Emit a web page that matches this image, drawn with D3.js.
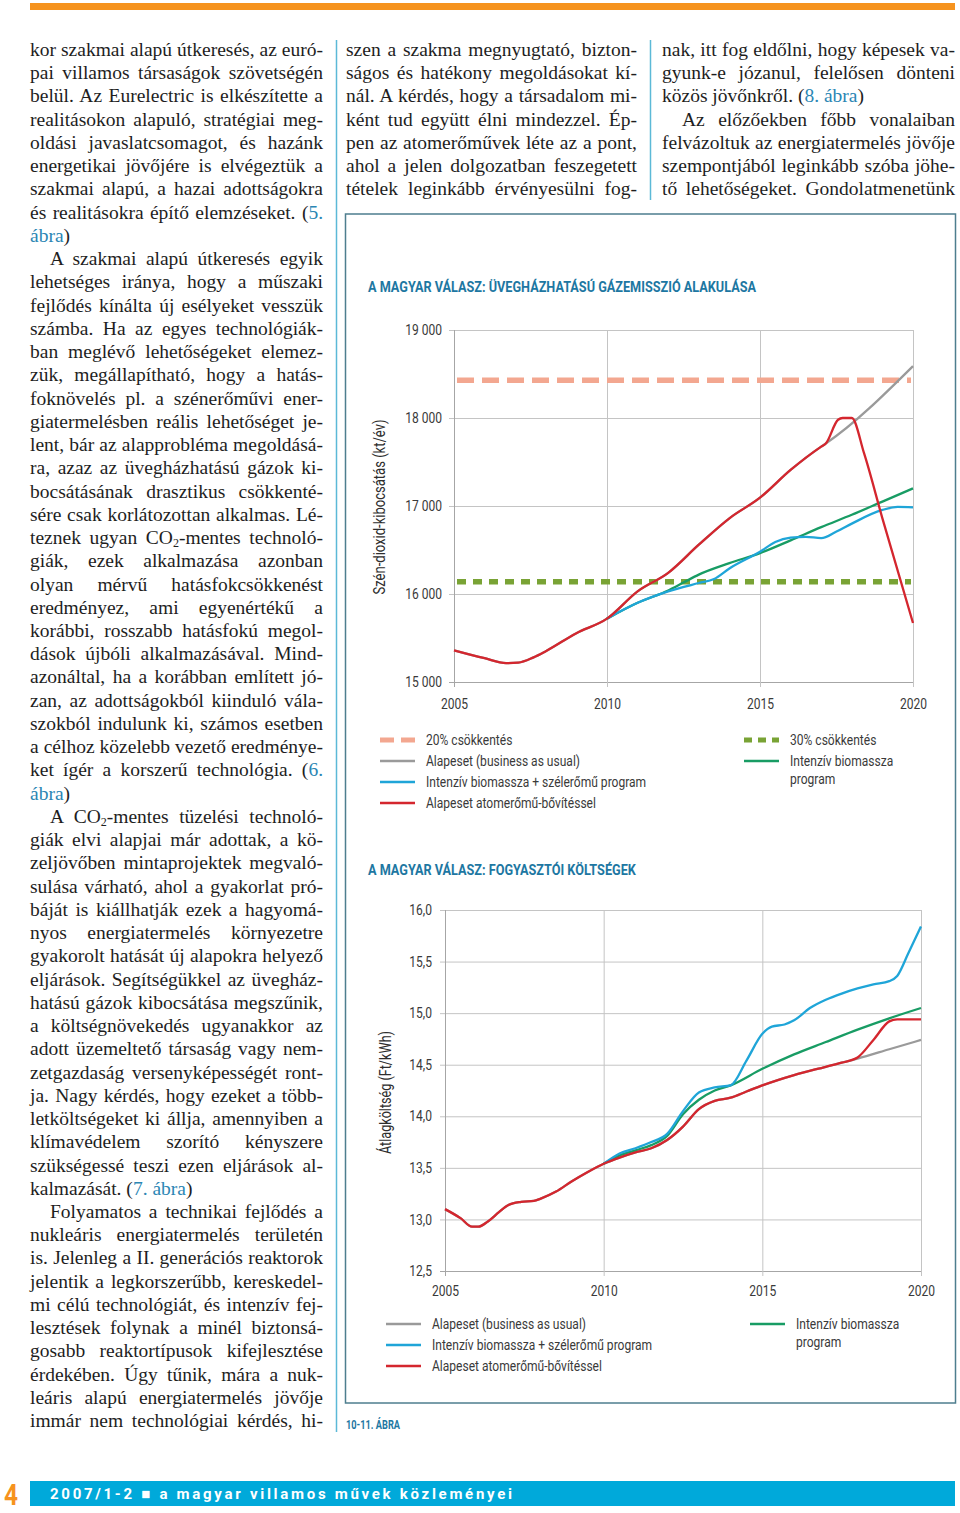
<!DOCTYPE html>
<html><head><meta charset="utf-8">
<script src="https://cdn.jsdelivr.net/npm/d3@7"></script>
<style>
html,body{margin:0;padding:0;background:#fff;}
#page{position:relative;width:960px;height:1513px;overflow:hidden;background:#fff;}
#page svg{position:absolute;left:0;top:0;}
.ln{position:absolute;white-space:pre;font-family:"Liberation Serif","Times New Roman",serif;font-size:19.5px;line-height:23.24px;color:#1e1e1e;}
.lk{color:#2b86b4;}
.ln sub{font-size:0.62em;vertical-align:-0.22em;line-height:0;}
</style></head><body><div id="page"></div>
<script>
// ---------------- DATA ----------------
const xYears = [2005, 2010, 2015, 2020];

// Chart 1: greenhouse gas emission (kt/év)
const emisTicks = [15000, 16000, 17000, 18000, 19000];
const emisTickLabels = ["15 000", "16 000", "17 000", "18 000", "19 000"];
const emisBAU = [[2005,15360],[2006,15270],[2006.7,15215],[2007.1,15220],[2007.6,15280],[2008,15350],[2009,15555],[2010,15720],[2011,16030],[2012,16240],[2013,16560],[2014,16860],[2015,17095],[2016,17410],[2017,17675],[2017.15,17710],[2020,18590]];
const emisNuclear = [[2005,15360],[2006,15270],[2006.7,15215],[2007.1,15220],[2007.6,15280],[2008,15350],[2009,15555],[2010,15720],[2011,16030],[2012,16240],[2013,16560],[2014,16860],[2015,17095],[2016,17410],[2017,17675],[2017.15,17710],[2017.55,17980],[2017.7,18000],[2018.0,18000],[2018.4,17600],[2019,16860],[2020,15670]];
const emisBiomass = [[2010,15720],[2011,15900],[2012,16040],[2012.5,16130],[2013,16220],[2014,16350],[2015,16465],[2016,16610],[2017,16760],[2018,16900],[2019,17050],[2020,17200]];
const emisBioWind = [[2010,15720],[2011,15900],[2012,16030],[2013,16125],[2013.5,16170],[2014,16290],[2015,16480],[2015.5,16590],[2016,16640],[2016.5,16650],[2017,16635],[2017.5,16710],[2018,16800],[2019,16955],[2019.5,16990],[2020,16985]];
const emisTarget20 = 18430;
const emisTarget30 = 16140;

// Chart 2: consumer costs (Ft/kWh)
const costTicks = [12.5, 13, 13.5, 14, 14.5, 15, 15.5, 16];
const costTickLabels = ["12,5", "13,0", "13,5", "14,0", "14,5", "15,0", "15,5", "16,0"];
const costBase = [[2005,13.10],[2005.5,13.01],[2005.85,12.93],[2006.05,12.93],[2006.35,12.98],[2006.7,13.07],[2007,13.14],[2007.4,13.17],[2007.8,13.18],[2008,13.20],[2008.5,13.27],[2009,13.37],[2009.5,13.46],[2010,13.54],[2010.5,13.60],[2011,13.65],[2011.5,13.69],[2012,13.77],[2012.5,13.90],[2013,14.07],[2013.5,14.15],[2014,14.18],[2014.5,14.24],[2015,14.30],[2016,14.40],[2017,14.48],[2017.5,14.52]];
const costBAU = costBase.concat([[2018,14.56],[2019,14.65],[2020,14.74]]);
const costNuclear = costBase.concat([[2018,14.57],[2018.5,14.74],[2019,14.92],[2019.25,14.94],[2020,14.94]]);
const costBiomass = [[2010,13.54],[2010.5,13.62],[2011,13.67],[2011.5,13.72],[2012,13.81],[2012.5,14.02],[2013,14.16],[2013.5,14.25],[2014,14.30],[2015,14.46],[2016,14.60],[2017,14.72],[2018,14.84],[2019,14.95],[2020,15.05]];
const costBioWind = [[2010,13.54],[2010.5,13.64],[2011,13.69],[2011.5,13.75],[2012,13.83],[2012.5,14.05],[2013,14.23],[2013.5,14.28],[2014,14.30],[2014.5,14.54],[2015,14.80],[2015.3,14.87],[2015.7,14.89],[2016,14.93],[2016.5,15.05],[2017,15.13],[2017.5,15.19],[2018,15.24],[2018.5,15.28],[2019,15.31],[2019.25,15.36],[2019.6,15.58],[2020,15.84]];

// Labels
const seriesNames = {
  t20: "20% csökkentés",
  t30: "30% csökkentés",
  bau: "Alapeset (business as usual)",
  bio: ["Intenzív biomassza", "program"],
  wind: "Intenzív biomassza + szélerőmű program",
  nuc: "Alapeset atomerőmű-bővítéssel"
};
const chart1Title = "A MAGYAR VÁLASZ: ÜVEGHÁZHATÁSÚ GÁZEMISSZIÓ ALAKULÁSA";
const chart2Title = "A MAGYAR VÁLASZ: FOGYASZTÓI KÖLTSÉGEK";
const chart1YTitle = "Szén-dioxid-kibocsátás (kt/év)";
const chart2YTitle = "Átlagköltség (Ft/kWh)";
const figCaption = "10-11. ÁBRA";
const footerText = "2007/1-2 ■ a magyar villamos művek közleményei";
const pageNumber = "4";

// Body text (">" = indent, "|" = not justified, {..} = link, _2 = subscript)
const col1Lines = [
"kor szakmai alapú útkeresés, az euró-",
"pai villamos társaságok szövetségén",
"belül. Az Eurelectric is elkészítette a",
"realitásokon alapuló, stratégiai meg-",
"oldási javaslatcsomagot, és hazánk",
"energetikai jövőjére is elvégeztük a",
"szakmai alapú, a hazai adottságokra",
"és realitásokra építő elemzéseket. ({5.}",
"{ábra})|",
">A szakmai alapú útkeresés egyik",
"lehetséges iránya, hogy a műszaki",
"fejlődés kínálta új esélyeket vesszük",
"számba. Ha az egyes technológiák-",
"ban meglévő lehetőségeket elemez-",
"zük, megállapítható, hogy a hatás-",
"foknövelés pl. a szénerőművi ener-",
"giatermelésben reális lehetőséget je-",
"lent, bár az alapprobléma megoldásá-",
"ra, azaz az üvegházhatású gázok ki-",
"bocsátásának drasztikus csökkenté-",
"sére csak korlátozottan alkalmas. Lé-",
"teznek ugyan CO_2-mentes technoló-",
"giák, ezek alkalmazása azonban",
"olyan mérvű hatásfokcsökkenést",
"eredményez, ami egyenértékű a",
"korábbi, rosszabb hatásfokú megol-",
"dások újbóli alkalmazásával. Mind-",
"azonáltal, ha a korábban említett jó-",
"zan, az adottságokból kiinduló vála-",
"szokból indulunk ki, számos esetben",
"a célhoz közelebb vezető eredménye-",
"ket ígér a korszerű technológia. ({6.}",
"{ábra})|",
">A CO_2-mentes tüzelési technoló-",
"giák elvi alapjai már adottak, a kö-",
"zeljövőben mintaprojektek megvaló-",
"sulása várható, ahol a gyakorlat pró-",
"báját is kiállhatják ezek a hagyomá-",
"nyos energiatermelés környezetre",
"gyakorolt hatását új alapokra helyező",
"eljárások. Segítségükkel az üvegház-",
"hatású gázok kibocsátása megszűnik,",
"a költségnövekedés ugyanakkor az",
"adott üzemeltető társaság vagy nem-",
"zetgazdaság versenyképességét ront-",
"ja. Nagy kérdés, hogy ezeket a több-",
"letköltségeket ki állja, amennyiben a",
"klímavédelem szorító kényszere",
"szükségessé teszi ezen eljárások al-",
"kalmazását. ({7. ábra})|",
">Folyamatos a technikai fejlődés a",
"nukleáris energiatermelés területén",
"is. Jelenleg a II. generációs reaktorok",
"jelentik a legkorszerűbb, kereskedel-",
"mi célú technológiát, és intenzív fej-",
"lesztések folynak a minél biztonsá-",
"gosabb reaktortípusok kifejlesztése",
"érdekében. Úgy tűnik, mára a nuk-",
"leáris alapú energiatermelés jövője",
"immár nem technológiai kérdés, hi-"
];
const col2Lines = [
"szen a szakma megnyugtató, bizton-",
"ságos és hatékony megoldásokat kí-",
"nál. A kérdés, hogy a társadalom mi-",
"ként tud együtt élni mindezzel. Ép-",
"pen az atomerőművek léte az a pont,",
"ahol a jelen dolgozatban feszegetett",
"tételek leginkább érvényesülni fog-"
];
const col3Lines = [
"nak, itt fog eldőlni, hogy képesek va-",
"gyunk-e józanul, felelősen dönteni",
"közös jövőnkről. ({8. ábra})|",
">Az előzőekben főbb vonalaiban",
"felvázoltuk az energiatermelés jövője",
"szempontjából leginkább szóba jöhe-",
"tő lehetőségeket. Gondolatmenetünk"
];

// ---------------- STYLE ----------------
const C = {
  red: "#d4262e", gray: "#9a9a9a", blue: "#1fa5d8", green: "#189c64",
  salmon: "#f3a790", olive: "#79a335", grid: "#c4c4c4", axis: "#a6a6a6",
  title: "#1d77a2", text: "#3a3a3a", orange: "#f6931e", cyan: "#00a9da",
  sep: "#5cb9d7", box: "#4e7e8e"
};
const SANS = "Roboto, 'Liberation Sans', sans-serif";

const page = d3.select("#page");
const svg = page.append("svg").attr("width", 960).attr("height", 1513);

// measure helper to emulate condensed typeface
function measure(txt, size, weight) {
  const t = svg.append("text").attr("font-family", SANS).attr("font-size", size)
    .attr("font-weight", weight).text(txt);
  const w = t.node().getComputedTextLength(); t.remove(); return w;
}
const kLabel = 154 / measure(seriesNames.bau, 14.5, 400);
const kTitle = 388 / measure(chart1Title, 14.5, 700);
function squeeze(sel, k) {
  sel.each(function () {
    const w = this.getComputedTextLength();
    d3.select(this).attr("textLength", w * k).attr("lengthAdjust", "spacingAndGlyphs");
  });
}

// ---------------- PAGE DECOR ----------------
svg.append("rect").attr("x", 30).attr("y", 3).attr("width", 925).attr("height", 7).attr("fill", C.orange);
svg.append("line").attr("x1", 336.5).attr("x2", 336.5).attr("y1", 40).attr("y2", 1432).attr("stroke", C.sep).attr("stroke-width", 1.5);
svg.append("line").attr("x1", 650.5).attr("x2", 650.5).attr("y1", 40).attr("y2", 200).attr("stroke", C.sep).attr("stroke-width", 1.5);
svg.append("rect").attr("x", 345.5).attr("y", 214).attr("width", 610).attr("height", 1189)
  .attr("fill", "none").attr("stroke", C.box).attr("stroke-width", 1.5);

// footer
svg.append("rect").attr("x", 30).attr("y", 1481).attr("width", 925).attr("height", 25).attr("fill", C.cyan);
svg.append("text").attr("x", 4).attr("y", 1505).attr("font-family", SANS).attr("font-weight", 700)
  .attr("font-size", 30).attr("fill", C.orange).text(pageNumber).attr("textLength", 14).attr("lengthAdjust", "spacingAndGlyphs");
svg.append("text").attr("x", 50).attr("y", 1499).attr("font-family", SANS).attr("font-weight", 700)
  .attr("font-size", 15).attr("fill", "#fff").text(footerText).attr("textLength", 462).attr("lengthAdjust", "spacing");

// ---------------- BODY TEXT ----------------
const LH = 23.24, TOP0 = 38;
function markup(s) {
  return s.replace(/\{([^}]*)\}/g, '<span class="lk">$1</span>').replace(/_2/g, "<sub>2</sub>");
}
function column(lines, x, width) {
  lines.forEach((raw, i) => {
    let s = raw, indent = 0, just = true;
    if (s.startsWith(">")) { s = s.slice(1); indent = 20; }
    if (s.endsWith("|")) { s = s.slice(0, -1); just = false; }
    const d = page.append("div").attr("class", "ln")
      .style("left", (x + indent) + "px").style("top", (TOP0 + i * LH) + "px")
      .html(markup(s));
    if (just) {
      const node = d.node();
      const nat = node.getBoundingClientRect().width;
      const n = (node.textContent.match(/ /g) || []).length;
      if (n > 0) d.style("word-spacing", ((width - indent - nat) / n) + "px");
    }
  });
}
column(col1Lines, 30, 293);
column(col2Lines, 346, 291);
column(col3Lines, 662, 293);

// ---------------- CHARTS ----------------
function drawChart(cfg) {
  const g = svg.append("g");
  const x = d3.scaleLinear().domain([2005, 2020]).range([cfg.left, cfg.right]);
  const y = d3.scaleLinear().domain(cfg.yDomain).range([cfg.bottom, cfg.top]);

  // title
  g.append("text").attr("x", 368).attr("y", cfg.titleY).attr("font-family", SANS).attr("font-weight", 700)
    .attr("font-size", 14.5).attr("fill", C.title).text(cfg.title).call(squeeze, kTitle);

  // y axis + horizontal grid
  const ya = g.append("g").attr("transform", `translate(${cfg.left},0)`)
    .call(d3.axisLeft(y).tickValues(cfg.yTicks).tickFormat((d, i) => cfg.yLabels[i])
      .tickSize(-(cfg.right - cfg.left)).tickPadding(cfg.yPad));
  ya.select(".domain").remove();
  ya.selectAll(".tick line").attr("x1", -5).attr("stroke", (d, i) => i === 0 ? C.axis : C.grid);
  ya.selectAll(".tick text").attr("font-family", SANS).attr("font-size", 14.5).attr("fill", C.text).call(squeeze, kLabel);

  // x axis + vertical grid
  const xa = g.append("g").attr("transform", `translate(0,${cfg.bottom})`)
    .call(d3.axisBottom(x).tickValues(xYears).tickFormat(d3.format("d"))
      .tickSize(-(cfg.bottom - cfg.top)).tickPadding(cfg.xPad));
  xa.select(".domain").remove();
  xa.selectAll(".tick line").attr("y1", 5).attr("stroke", (d, i) => i === 0 ? C.axis : C.grid);
  xa.selectAll(".tick text").attr("font-family", SANS).attr("font-size", 14.5).attr("fill", C.text).call(squeeze, kLabel);

  // y title
  g.append("text").attr("transform", `translate(${cfg.yTitleX},${(cfg.top + cfg.bottom) / 2 + cfg.yTitleDy}) rotate(-90)`)
    .attr("text-anchor", "middle").attr("font-family", SANS).attr("font-size", 16).attr("fill", "#2e2e2e")
    .text(cfg.yTitle).attr("textLength", cfg.yTitleLen).attr("lengthAdjust", "spacingAndGlyphs");

  // target dashed lines
  (cfg.flats || []).forEach(f => {
    g.append("line").attr("x1", x(2005) + 3).attr("x2", x(2020) - 2).attr("y1", y(f.v)).attr("y2", y(f.v))
      .attr("stroke", f.color).attr("stroke-width", 5.5).attr("stroke-dasharray", f.dash);
  });

  const line = d3.line().x(d => x(d[0])).y(d => y(d[1])).curve(d3.curveMonotoneX);
  cfg.series.forEach(s => {
    g.append("path").datum(s.data).attr("d", line).attr("fill", "none")
      .attr("stroke", s.color).attr("stroke-width", 2.3).attr("stroke-linejoin", "round");
  });

  // legend
  cfg.legend.forEach(it => {
    const sw = g.append("line").attr("x1", it.x).attr("x2", it.x + 35).attr("y1", it.y).attr("y2", it.y)
      .attr("stroke", it.color).attr("stroke-width", it.dash ? 5 : 2.5);
    if (it.dash) sw.attr("stroke-dasharray", it.dash);
    const labels = Array.isArray(it.label) ? it.label : [it.label];
    labels.forEach((lb, j) => {
      g.append("text").attr("x", it.x + 46).attr("y", it.y + 5 + j * 18).attr("font-family", SANS)
        .attr("font-size", 14.5).attr("fill", C.text).text(lb).call(squeeze, kLabel);
    });
  });
}

drawChart({
  title: chart1Title, titleY: 292,
  left: 454, right: 913, top: 330, bottom: 682,
  yDomain: [15000, 19000], yTicks: emisTicks, yLabels: emisTickLabels, yPad: 12, xPad: 17,
  yTitle: chart1YTitle, yTitleX: 385, yTitleDy: 1, yTitleLen: 175,
  flats: [
    { v: emisTarget20, color: C.salmon, dash: "17,8" },
    { v: emisTarget30, color: C.olive, dash: "9,7" }
  ],
  series: [
    { data: emisBAU, color: C.gray },
    { data: emisBiomass, color: C.green },
    { data: emisBioWind, color: C.blue },
    { data: emisNuclear, color: C.red }
  ],
  legend: [
    { x: 380, y: 740, color: C.salmon, dash: "14,7", label: seriesNames.t20 },
    { x: 380, y: 761, color: C.gray, label: seriesNames.bau },
    { x: 380, y: 782, color: C.blue, label: seriesNames.wind },
    { x: 380, y: 803, color: C.red, label: seriesNames.nuc },
    { x: 744, y: 740, color: C.olive, dash: "8,6", label: seriesNames.t30 },
    { x: 744, y: 761, color: C.green, label: seriesNames.bio }
  ]
});

drawChart({
  title: chart2Title, titleY: 875,
  left: 445, right: 921, top: 910, bottom: 1271,
  yDomain: [12.5, 16], yTicks: costTicks, yLabels: costTickLabels, yPad: 13, xPad: 15,
  yTitle: chart2YTitle, yTitleX: 391, yTitleDy: 2, yTitleLen: 123,
  flats: [],
  series: [
    { data: costBAU, color: C.gray },
    { data: costBiomass, color: C.green },
    { data: costBioWind, color: C.blue },
    { data: costNuclear, color: C.red }
  ],
  legend: [
    { x: 386, y: 1324, color: C.gray, label: seriesNames.bau },
    { x: 386, y: 1345, color: C.blue, label: seriesNames.wind },
    { x: 386, y: 1366, color: C.red, label: seriesNames.nuc },
    { x: 750, y: 1324, color: C.green, label: seriesNames.bio }
  ]
});

// caption
svg.append("text").attr("x", 346).attr("y", 1429).attr("font-family", SANS).attr("font-weight", 700)
  .attr("font-size", 13.5).attr("fill", C.title).text(figCaption).attr("textLength", 54).attr("lengthAdjust", "spacingAndGlyphs");
</script></body></html>
